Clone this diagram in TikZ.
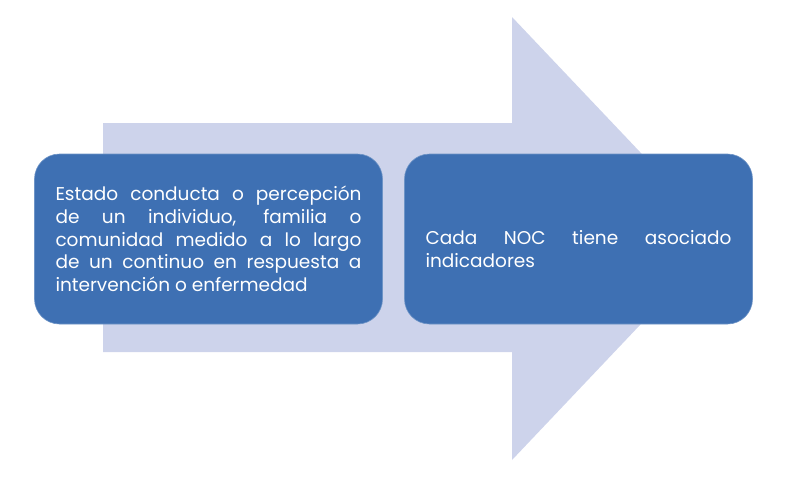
\documentclass[tikz,border=0pt]{standalone}
\usepackage{fontspec}
\setmainfont{Poppins}
\definecolor{arrowlav}{RGB}{205,211,235}
\definecolor{boxblue}{RGB}{62,112,179}
\begin{document}
\begin{tikzpicture}[x=1pt,y=-1pt,
    card/.style={draw=boxblue!75!white, line width=0.6pt, fill=boxblue, rounded corners=25pt,
                 minimum width=348pt, minimum height=170pt, text width=306pt, align=justify,
                 text=white, font=\fontsize{18.5}{22.7}\selectfont}]
    \useasboundingbox (0,0) rectangle (787,479);
    % big arrow behind
    \coordinate (tail top) at (103,123);
    \coordinate (tip) at (722,238.5);
    \fill[arrowlav] (tail top) -- (512,123) -- (512,17) -- (tip) -- (512,460) -- (512,352) -- (103,352) -- cycle;
    % boxes
    \node[card] (estado) at (208.5,239) {\hyphenpenalty=10000 Estado conducta o percepción\linebreak de un individuo, familia o\linebreak comunidad medido a lo largo\linebreak de un continuo en respuesta a\linebreak intervención o enfermedad};
    \node[card] (noc) at (578.5,239) {\hyphenpenalty=10000 \rule{0pt}{34pt}Cada NOC tiene asociado\linebreak indicadores};
\end{tikzpicture}
\end{document}
